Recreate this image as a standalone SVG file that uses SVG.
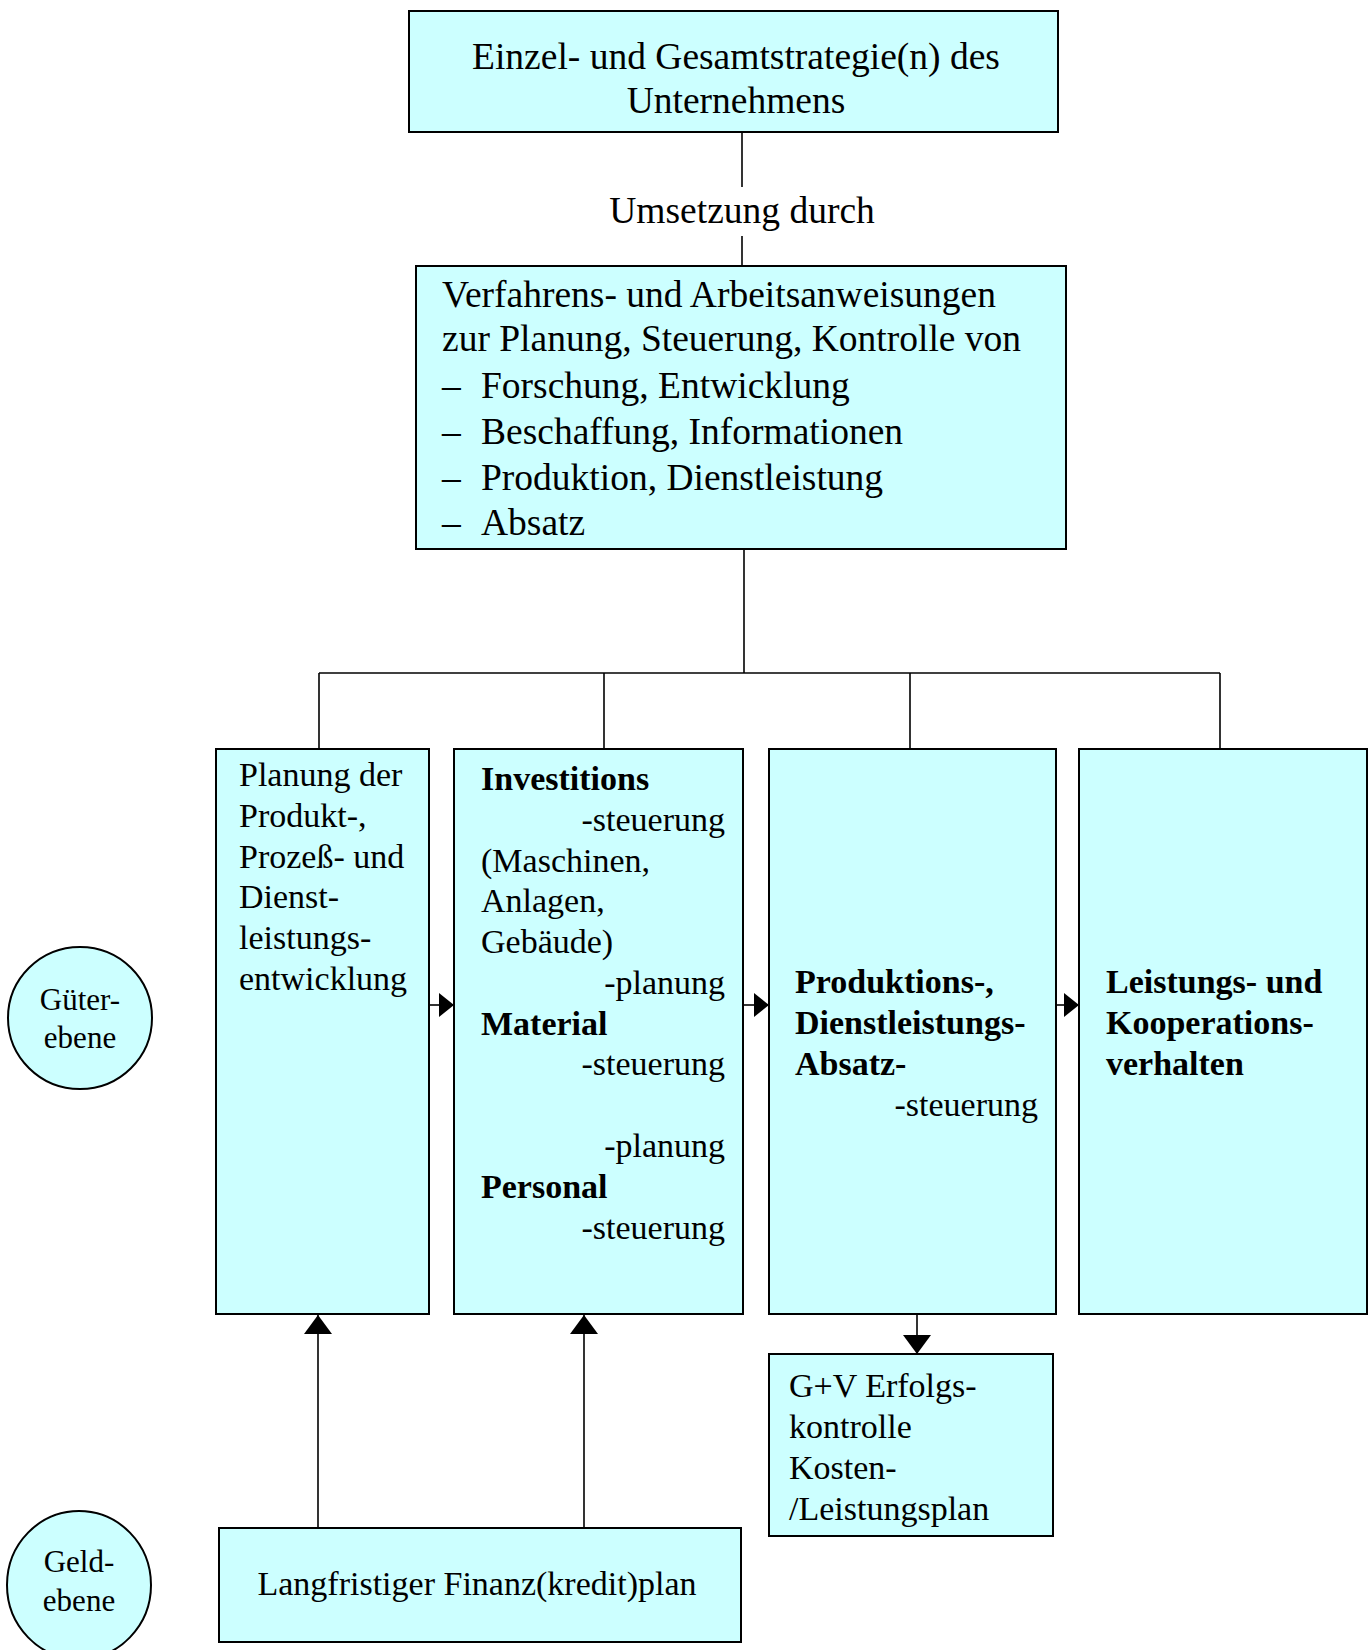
<svg xmlns="http://www.w3.org/2000/svg" width="1372" height="1650" viewBox="0 0 1372 1650">
<style>
.box{fill:#CCFFFF;stroke:#000;stroke-width:2}
.t{font-family:"Liberation Serif","Times New Roman",serif;fill:#000}
.big{font-size:37.5px}
.mid{font-size:34px}
.sm{font-size:31px}
.b{font-weight:bold}
.ln{stroke:#000;stroke-width:1.6;fill:none}
</style>
<defs>
<marker id="arrS" viewBox="0 0 15 24" refX="15" refY="12" markerWidth="15" markerHeight="24" markerUnits="userSpaceOnUse" orient="auto"><path d="M0,0 L15,12 L0,24 z" fill="#000"/></marker>
<marker id="arrL" viewBox="0 0 19 28" refX="19" refY="14" markerWidth="19" markerHeight="28" markerUnits="userSpaceOnUse" orient="auto"><path d="M0,0 L19,14 L0,28 z" fill="#000"/></marker>
</defs>
<rect width="1372" height="1650" fill="#fff"/>

<g id="connectors">
<line class="ln" x1="742" y1="132" x2="742" y2="187"/>
<line class="ln" x1="742" y1="236" x2="742" y2="266"/>
<line class="ln" x1="744" y1="549" x2="744" y2="673"/>
<line class="ln" x1="319" y1="673" x2="1220" y2="673"/>
<line class="ln" x1="319" y1="673" x2="319" y2="749"/>
<line class="ln" x1="604" y1="673" x2="604" y2="749"/>
<line class="ln" x1="910" y1="673" x2="910" y2="749"/>
<line class="ln" x1="1220" y1="673" x2="1220" y2="749"/>
<line class="ln" x1="429" y1="1005" x2="454" y2="1005" marker-end="url(#arrS)"/>
<line class="ln" x1="743" y1="1005" x2="769" y2="1005" marker-end="url(#arrS)"/>
<line class="ln" x1="1056" y1="1005" x2="1079" y2="1005" marker-end="url(#arrS)"/>
<line class="ln" x1="318" y1="1528" x2="318" y2="1315" marker-end="url(#arrL)"/>
<line class="ln" x1="584" y1="1528" x2="584" y2="1315" marker-end="url(#arrL)"/>
<line class="ln" x1="917" y1="1314" x2="917" y2="1354" marker-end="url(#arrL)"/>
</g>

<g id="strategie">
<rect class="box" x="409" y="11" width="649" height="121"/>
<text class="t big" x="736" y="69" text-anchor="middle">Einzel- und Gesamtstrategie(n) des</text>
<text class="t big" x="736" y="113" text-anchor="middle">Unternehmens</text>
</g>

<g id="umsetzung">
<text class="t big" x="742" y="223" text-anchor="middle">Umsetzung durch</text>
</g>

<g id="verfahren">
<rect class="box" x="416" y="266" width="650" height="283"/>
<text class="t big" x="442" y="307">Verfahrens- und Arbeitsanweisungen</text>
<text class="t big" x="442" y="351">zur Planung, Steuerung, Kontrolle von</text>
<text class="t big" x="442" y="398">–</text><text class="t big" x="481" y="398">Forschung, Entwicklung</text>
<text class="t big" x="442" y="444">–</text><text class="t big" x="481" y="444">Beschaffung, Informationen</text>
<text class="t big" x="442" y="490">–</text><text class="t big" x="481" y="490">Produktion, Dienstleistung</text>
<text class="t big" x="442" y="535">–</text><text class="t big" x="481" y="535">Absatz</text>
</g>

<g id="planung">
<rect class="box" x="216" y="749" width="213" height="565"/>
<text class="t mid" x="239" y="786">Planung der</text>
<text class="t mid" x="239" y="827">Produkt-,</text>
<text class="t mid" x="239" y="868">Prozeß- und</text>
<text class="t mid" x="239" y="908">Dienst-</text>
<text class="t mid" x="239" y="949">leistungs-</text>
<text class="t mid" x="239" y="990">entwicklung</text>
</g>

<g id="steuerung">
<rect class="box" x="454" y="749" width="289" height="565"/>
<text class="t mid b" x="481" y="790">Investitions</text>
<text class="t mid" x="725" y="831" text-anchor="end">-steuerung</text>
<text class="t mid" x="481" y="872">(Maschinen,</text>
<text class="t mid" x="481" y="912">Anlagen,</text>
<text class="t mid" x="481" y="953">Gebäude)</text>
<text class="t mid" x="725" y="994" text-anchor="end">-planung</text>
<text class="t mid b" x="481" y="1035">Material</text>
<text class="t mid" x="725" y="1075" text-anchor="end">-steuerung</text>
<text class="t mid" x="725" y="1157" text-anchor="end">-planung</text>
<text class="t mid b" x="481" y="1198">Personal</text>
<text class="t mid" x="725" y="1239" text-anchor="end">-steuerung</text>
</g>

<g id="produktion">
<rect class="box" x="769" y="749" width="287" height="565"/>
<text class="t mid b" x="795" y="993">Produktions-,</text>
<text class="t mid b" x="795" y="1034">Dienstleistungs-</text>
<text class="t mid b" x="795" y="1075">Absatz-</text>
<text class="t mid" x="1038" y="1116" text-anchor="end">-steuerung</text>
</g>

<g id="leistung">
<rect class="box" x="1079" y="749" width="288" height="565"/>
<text class="t mid b" x="1106" y="993">Leistungs- und</text>
<text class="t mid b" x="1106" y="1034">Kooperations-</text>
<text class="t mid b" x="1106" y="1075">verhalten</text>
</g>

<g id="erfolg">
<rect class="box" x="769" y="1354" width="284" height="182"/>
<text class="t mid" x="789" y="1397">G+V Erfolgs-</text>
<text class="t mid" x="789" y="1438">kontrolle</text>
<text class="t mid" x="789" y="1479">Kosten-</text>
<text class="t mid" x="789" y="1520">/Leistungsplan</text>
</g>

<g id="finanz">
<rect class="box" x="219" y="1528" width="522" height="114"/>
<text class="t mid" x="477" y="1595" text-anchor="middle">Langfristiger Finanz(kredit)plan</text>
</g>

<g id="gueterebene">
<ellipse class="box" cx="80" cy="1018" rx="72" ry="71"/>
<text class="t sm" x="80" y="1010" text-anchor="middle">Güter-</text>
<text class="t sm" x="80" y="1048" text-anchor="middle">ebene</text>
</g>

<g id="geldebene">
<ellipse class="box" cx="79" cy="1585" rx="72" ry="74"/>
<text class="t sm" x="79" y="1572" text-anchor="middle">Geld-</text>
<text class="t sm" x="79" y="1611" text-anchor="middle">ebene</text>
</g>
</svg>
